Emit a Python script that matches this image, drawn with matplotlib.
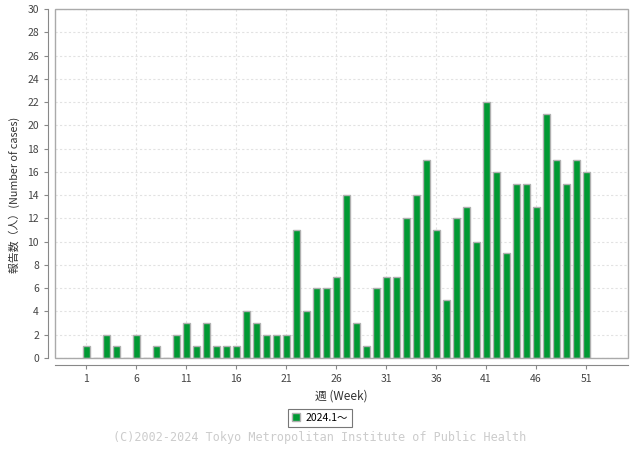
import matplotlib
matplotlib.use("Agg")
import matplotlib.pyplot as plt
from matplotlib.patches import Rectangle

plt.rcParams['font.family'] = ['Noto Sans CJK JP', 'DejaVu Sans']

weeks = list(range(1, 52))
cases = [1, 0, 2, 1, 0, 2, 0, 1, 0, 2, 3, 1, 3, 1, 1, 1, 4, 3, 2, 2, 2, 11, 4, 6, 6, 7, 14, 3, 1, 6,
         7, 7, 12, 14, 17, 11, 5, 12, 13, 10, 22, 16, 9, 15, 15, 13, 21, 17, 15, 17, 16]
series_label = "2024.1〜"
xticks = [1, 6, 11, 16, 21, 26, 31, 36, 41, 46, 51]
yticks = list(range(0, 31, 2))

fig = plt.figure(figsize=(6.4, 4.5), dpi=100)
ax = fig.add_axes([55/640, 1-358/450, (628-55)/640, (358-9)/450])

ax.bar(weeks, cases, width=0.7, color='#009933', edgecolor='#b0b0b0', linewidth=1.0,
       label=series_label, zorder=3)

ax.set_xlim(-2.1, 55.2)
ax.set_ylim(0, 30)
ax.set_xticks(xticks)
ax.set_yticks(yticks)
ax.grid(True, color='#e2e2e2', linestyle=(0, (2, 2)), linewidth=0.8, zorder=0)

for s in ['top', 'right']:
    ax.spines[s].set_visible(False)
ax.spines['left'].set_position(('outward', 5))
ax.spines['bottom'].set_position(('outward', 5))
ax.spines['left'].set_color('#888888')
ax.spines['bottom'].set_color('#888888')
ax.add_patch(Rectangle((0, 0), 1, 1, transform=ax.transAxes, fill=False,
                       edgecolor='#aaaaaa', linewidth=1.0, zorder=4, clip_on=False))
ax.tick_params(axis='both', colors='#888888', labelcolor='#444444', labelsize=7.5, length=3)

ax.set_xlabel("週 (Week)", fontsize=8.5, color='#333333', labelpad=4)
ax.set_ylabel("報告数（人）(Number of cases)", fontsize=7.8, color='#333333')
ax.yaxis.set_label_coords((20 - 55) / 573, (358 - 195) / 349)

leg = fig.legend(loc='center', bbox_to_anchor=(320/640, 1-418/450), fontsize=7.5,
                 frameon=True, fancybox=False, edgecolor='#555555', handlelength=0.8,
                 handleheight=0.8, handletextpad=0.5, borderpad=0.4)
leg.get_frame().set_linewidth(0.8)

fig.text(320/640, 1-438/450, "(C)2002-2024 Tokyo Metropolitan Institute of Public Health",
         ha='center', va='center', fontsize=8.5, color='#cccccc', family='DejaVu Sans Mono')

fig.savefig("out.png", dpi=100)
